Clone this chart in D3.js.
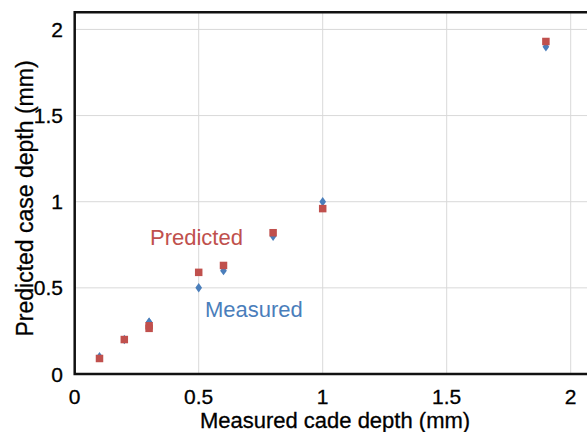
<!DOCTYPE html>
<html>
<head>
<meta charset="utf-8">
<script src="https://cdn.jsdelivr.net/npm/d3@7/dist/d3.min.js"></script>
<style>
  body { margin: 0; background: #fff; }
  text { font-family: Arial, "Liberation Sans", sans-serif; }
</style>
</head>
<body>
<script>
const depthX    = [0.1, 0.2, 0.3, 0.3, 0.5, 0.6, 0.8, 1.0, 1.9];
const measured  = [0.1, 0.2, 0.3, 0.3, 0.5, 0.6, 0.8, 1.0, 1.9];
const predicted = [0.09, 0.2, 0.28, 0.265, 0.59, 0.63, 0.82, 0.96, 1.93];
const xTicks = [0, 0.5, 1, 1.5, 2];
const yTicks = [0, 0.5, 1, 1.5, 2];

const W = 587, H = 432;
const plotLeft = 74.7, plotTop = 12.2, plotBottom = 374;

const svg = d3.select("body").append("svg")
  .attr("width", W)
  .attr("height", H);

const x = d3.scaleLinear().domain([0, 2.1]).range([plotLeft, plotLeft + 2.1 * 248]);
const y = d3.scaleLinear().domain([0, 2.1]).range([plotBottom, plotTop]);

// gridlines
svg.append("g").selectAll("line")
  .data(xTicks.filter(d => d > 0))
  .join("line")
  .attr("x1", d => x(d)).attr("x2", d => x(d))
  .attr("y1", plotTop).attr("y2", plotBottom)
  .attr("stroke", "#d9d9d9").attr("stroke-width", 1);
svg.append("g").selectAll("line")
  .data(yTicks.filter(d => d > 0))
  .join("line")
  .attr("x1", plotLeft).attr("x2", W)
  .attr("y1", d => y(d)).attr("y2", d => y(d))
  .attr("stroke", "#d9d9d9").attr("stroke-width", 1);

// frame
svg.append("path")
  .attr("d", `M${W + 5},${plotTop}H${plotLeft}V${plotBottom}H${W + 5}`)
  .attr("fill", "none")
  .attr("stroke", "#111")
  .attr("stroke-width", 2.5);

// tick labels
svg.append("g").selectAll("text")
  .data(xTicks)
  .join("text")
  .attr("x", d => x(d))
  .attr("y", 404)
  .attr("text-anchor", "middle")
  .attr("font-size", 21)
  .attr("stroke", "#000").attr("stroke-width", 0.3)
  .text(d => d);
svg.append("g").selectAll("text")
  .data(yTicks)
  .join("text")
  .attr("x", 63)
  .attr("y", d => y(d) + 7.5)
  .attr("text-anchor", "end")
  .attr("font-size", 21)
  .attr("stroke", "#000").attr("stroke-width", 0.3)
  .text(d => d);

// axis titles
svg.append("text")
  .attr("x", (204 + 466) / 2)
  .attr("y", 428)
  .attr("text-anchor", "middle")
  .attr("font-size", 22)
  .attr("stroke", "#000").attr("stroke-width", 0.3)
  .text("Measured cade depth (mm)");
svg.append("text")
  .attr("transform", `translate(33,${(52 + 345) / 2}) rotate(-90)`)
  .attr("text-anchor", "middle")
  .attr("font-size", 23)
  .attr("stroke", "#000").attr("stroke-width", 0.3)
  .text("Predicted case depth (mm)");

// points
const pts = depthX.map((d, i) => ({x: d, m: measured[i], p: predicted[i]}));
svg.append("g").selectAll("path")
  .data(pts)
  .join("path")
  .attr("d", d3.symbol(d3.symbolDiamond, 32))
  .attr("transform", d => `translate(${x(d.x)},${y(d.m)}) scale(1.1,0.9)`)
  .attr("fill", "#4a7ebb");
svg.append("g").selectAll("rect")
  .data(pts)
  .join("rect")
  .attr("x", d => x(d.x) - 3.75)
  .attr("y", d => y(d.p) - 3.75)
  .attr("width", 7.5)
  .attr("height", 7.5)
  .attr("fill", "#c0504d");

// series labels
svg.append("text")
  .attr("x", 150).attr("y", 245)
  .attr("font-size", 22)
  .attr("fill", "#c0504d")
  .text("Predicted");
svg.append("text")
  .attr("x", 205).attr("y", 317)
  .attr("font-size", 22)
  .attr("fill", "#4a7ebb")
  .text("Measured");
</script>
</body>
</html>
